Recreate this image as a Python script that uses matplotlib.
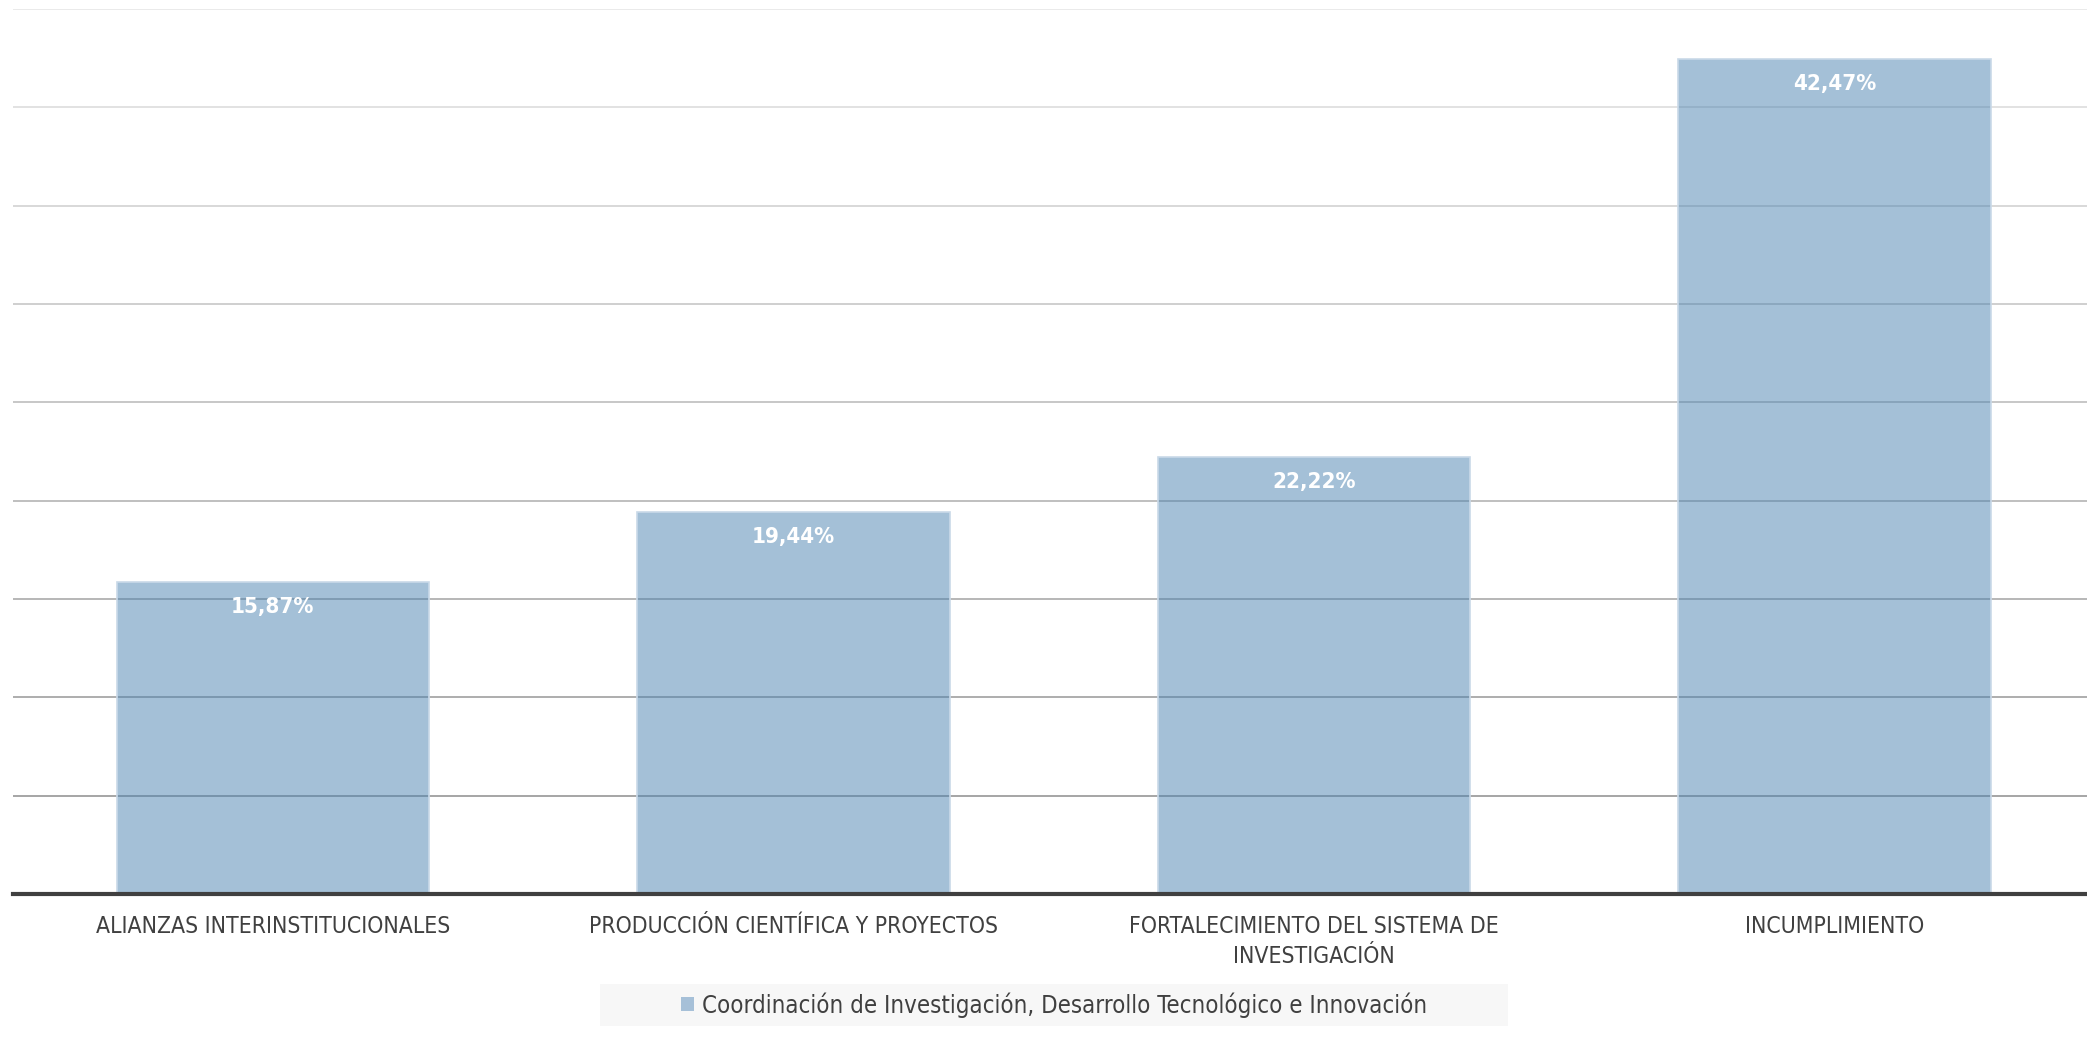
import matplotlib
matplotlib.use('Agg')
import matplotlib.pyplot as plt
from matplotlib.patches import Rectangle
import numpy as np

# Data
categories = ['ALIANZAS INTERINSTITUCIONALES',
              'PRODUCCIÓN CIENTÍFICA Y PROYECTOS',
              'FORTALECIMIENTO DEL SISTEMA DE\nINVESTIGACIÓN',
              'INCUMPLIMIENTO']
values = [15.87, 19.44, 22.22, 42.47]
series_name = 'Coordinación de Investigación, Desarrollo Tecnológico e Innovación'

plt.rcParams['font.family'] = ['DejaVu Sans']
plt.rcParams['font.stretch'] = 'condensed'

fig = plt.figure(figsize=(20.87, 10.40), dpi=100)
W, H = 2087, 1040
ax = fig.add_axes([12.6 / W, 1 - 894 / H, 2082 / W, (894 - 9) / H])

x = np.arange(len(categories))
ax.set_xlim(-0.5, len(categories) - 0.5)
ax.set_ylim(0, 45)

# gridlines get darker toward the bottom
grid_vals = np.arange(5, 46, 5)
for i, gv in enumerate(grid_vals):
    shade = 0.62 + 0.29 * (i / (len(grid_vals) - 1))
    ax.axhline(gv, color=(shade, shade, shade), linewidth=1.3, zorder=1)

bars = ax.bar(x, values, width=0.6, color='#4a82b0', alpha=0.5,
              edgecolor='#ffffff', linewidth=0, zorder=2)
for xi, v in zip(x, values):
    ax.bar(xi, v, width=0.6, fill=False, edgecolor='#c9d9e8', linewidth=1.2, zorder=3)
    ax.annotate(f'{v:.2f}%'.replace('.', ','), (xi, v), xytext=(0, -11),
                textcoords='offset points', ha='center', va='top',
                color='white', fontsize=16, fontweight='bold', zorder=4)

ax.axhline(0, color='#404040', linewidth=3, zorder=5, clip_on=False)

ax.set_xticks(x)
ax.set_xticklabels(categories, fontsize=16.5, color='#404040', linespacing=1.38)
ax.tick_params(axis='x', length=0, pad=15)
ax.set_yticks([])
for s in ax.spines.values():
    s.set_visible(False)

# legend box
fig.patches.append(Rectangle((600 / W, 1 - 1026 / H), 908 / W, 42 / H,
                             transform=fig.transFigure, facecolor='#f7f7f7',
                             edgecolor='none', zorder=0))
handle = Rectangle((0, 0), 1, 1, facecolor='#a6c0d8')
fig.legend([handle], [series_name], loc='center', bbox_to_anchor=(1054 / W, 1 - 1005 / H),
           frameon=False, fontsize=17.2, handlelength=0.55, handleheight=0.55,
           handletextpad=0.3, labelcolor='#404040')

fig.savefig('out.png', dpi=100)
